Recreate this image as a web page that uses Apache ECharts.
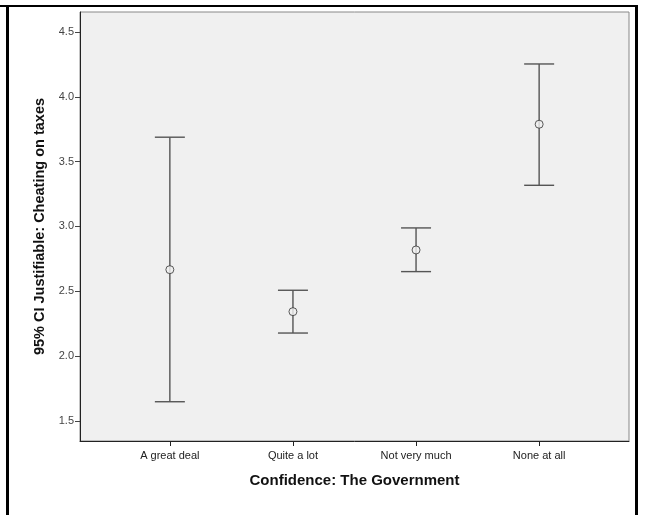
<!DOCTYPE html>
<html>
<head>
<meta charset="utf-8">
<script src="https://cdn.jsdelivr.net/npm/echarts@6/dist/echarts.min.js"></script>
<style>
  html, body { margin: 0; padding: 0; background: #fff; }
  #chart { width: 646px; height: 515px; }
  .frame { position: absolute; background: #000; pointer-events: none; }
</style>
</head>
<body>
<div id="chart"></div>
<div class="frame" style="left:0;top:5px;width:638px;height:2px"></div>
<div class="frame" style="left:6px;top:5px;width:3px;height:510px"></div>
<div class="frame" style="left:635px;top:5px;width:3px;height:510px"></div>
<script>
// categories and CI values
const categories = ['A great deal', 'Quite a lot', 'Not very much', 'None at all'];
const means = [2.666, 2.342, 2.818, 3.788];
const lower = [1.647, 2.177, 2.651, 3.317];
const upper = [3.688, 2.507, 2.988, 4.253];
const yTicks = [1.5, 2.0, 2.5, 3.0, 3.5, 4.0, 4.5];
const xTicks = [1, 2, 3, 4];

const font = 'Liberation Sans, Arial, sans-serif';
const chart = echarts.init(document.getElementById('chart'));

const barData = categories.map((c, i) => [i + 1, lower[i], upper[i]]);
const meanData = categories.map((c, i) => [i + 1, means[i]]);

const option = {
    animation: false,
    grid: {
        left: 80,
        top: 12,
        right: 17,
        bottom: 74,
        show: true,
        backgroundColor: '#f0f0f0',
        borderColor: '#888',
        borderWidth: 1,
        outerBoundsMode: 'none',
    },
    xAxis: {
        type: 'value',
        min: 0.27,
        max: 4.73,
        name: 'Confidence: The Government',
        nameLocation: 'middle',
        nameGap: 32,
        nameTextStyle: { fontFamily: font, fontWeight: 'bold', fontSize: 15, color: '#111' },
        axisLine: { show: true, lineStyle: { color: '#222', width: 1 } },
        axisTick: { show: true, customValues: xTicks, length: 5, lineStyle: { color: '#222' } },
        axisLabel: {
            customValues: xTicks,
            margin: 9,
            fontFamily: font,
            fontSize: 11,
            color: '#222',
            formatter: (v) => categories[Math.round(v) - 1] || '',
        },
        splitLine: { show: false },
    },
    yAxis: {
        type: 'value',
        min: 1.344,
        max: 4.654,
        name: '95% CI Justifiable: Cheating on taxes',
        nameLocation: 'middle',
        nameGap: 31,
        nameTextStyle: { fontFamily: font, fontWeight: 'bold', fontSize: 14.5, color: '#111' },
        axisLine: { show: true, lineStyle: { color: '#222', width: 1 } },
        axisTick: { show: true, customValues: yTicks, length: 5, lineStyle: { color: '#444' } },
        axisLabel: {
            customValues: yTicks,
            margin: 6,
            fontFamily: font,
            fontSize: 11,
            color: '#444',
            formatter: (v) => v.toFixed(1),
        },
        splitLine: { show: false },
    },
    series: [
        {
            type: 'custom',
            name: 'CI',
            data: barData,
            encode: { x: 0, y: [1, 2] },
            renderItem: (params, api) => {
                const x = api.value(0);
                const lo = api.coord([x, api.value(1)]);
                const hi = api.coord([x, api.value(2)]);
                const half = 15;
                const style = { stroke: '#555', lineWidth: 1.4, fill: null };
                return {
                    type: 'group',
                    children: [
                        { type: 'line', shape: { x1: lo[0], y1: lo[1], x2: hi[0], y2: hi[1] }, style },
                        { type: 'line', shape: { x1: hi[0] - half, y1: hi[1], x2: hi[0] + half, y2: hi[1] }, style },
                        { type: 'line', shape: { x1: lo[0] - half, y1: lo[1], x2: lo[0] + half, y2: lo[1] }, style },
                    ],
                };
            },
            z: 2,
        },
        {
            type: 'scatter',
            name: 'Mean',
            data: meanData,
            symbol: 'circle',
            symbolSize: 8,
            itemStyle: { color: '#f0f0f0', borderColor: '#333', borderWidth: 1 },
            z: 3,
        },
    ],
};

chart.setOption(option);
</script>
</body>
</html>
